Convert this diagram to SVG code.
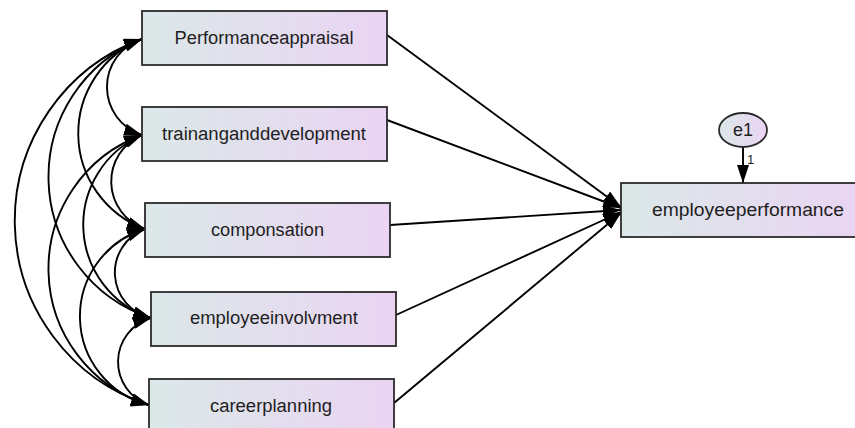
<svg xmlns="http://www.w3.org/2000/svg" width="855" height="428" viewBox="0 0 855 428">
<style>
.box{stroke:#2b2b2b;stroke-width:1.8;fill:url(#g)}
.lbl{font-family:"Liberation Sans",Arial,Helvetica,sans-serif;font-size:18px;fill:#1e1e1e;text-anchor:middle}
.num{font-family:"Liberation Sans",Arial,Helvetica,sans-serif;font-size:13px;fill:#1e1e1e}
.con{fill:none;stroke:#000;stroke-width:1.9}
</style>
<defs>
<linearGradient id="g" x1="0" y1="0" x2="1" y2="0">
<stop offset="0" stop-color="#dbe8e8"/>
<stop offset="1" stop-color="#ead4f3"/>
</linearGradient>
<marker id="ah" viewBox="0 0 18 12" refX="18" refY="6" markerWidth="18" markerHeight="12" orient="auto-start-reverse" markerUnits="userSpaceOnUse">
<path d="M0,0 L18,6 L0,12 z" fill="#000"/>
</marker>
</defs>
<g id="connectors">
<path class="con" d="M387,35 L621,207" marker-end="url(#ah)"/>
<path class="con" d="M387,120 L621,208" marker-end="url(#ah)"/>
<path class="con" d="M390,225 L621,210" marker-end="url(#ah)"/>
<path class="con" d="M396,315 L621,212" marker-end="url(#ah)"/>
<path class="con" d="M394,403 L621,213" marker-end="url(#ah)"/>
<path class="con" d="M743,147 L743,183" marker-end="url(#ah)"/>
<path class="con" d="M142,39 A50.4,50.4 0 0 0 142,135" marker-start="url(#ah)" marker-end="url(#ah)"/>
<path class="con" d="M142,135 A50.4,50.4 0 0 0 145,229" marker-start="url(#ah)" marker-end="url(#ah)"/>
<path class="con" d="M145,229 A46.6,46.6 0 0 0 151,318" marker-start="url(#ah)" marker-end="url(#ah)"/>
<path class="con" d="M151,318 A45.6,45.6 0 0 0 149,405" marker-start="url(#ah)" marker-end="url(#ah)"/>
<path class="con" d="M142,39 A101.8,101.8 0 0 0 145,229" marker-start="url(#ah)" marker-end="url(#ah)"/>
<path class="con" d="M142,135 A98,98 0 0 0 151,318" marker-start="url(#ah)" marker-end="url(#ah)"/>
<path class="con" d="M145,229 A91.3,91.3 0 0 0 149,405" marker-start="url(#ah)" marker-end="url(#ah)"/>
<path class="con" d="M142,39 A148.4,148.4 0 0 0 151,318" marker-start="url(#ah)" marker-end="url(#ah)"/>
<path class="con" d="M142,135 A142.5,142.5 0 0 0 149,405" marker-start="url(#ah)" marker-end="url(#ah)"/>
<path class="con" d="M142,39 A193.5,193.5 0 0 0 149,405" marker-start="url(#ah)" marker-end="url(#ah)"/>
</g>
<g id="performanceappraisal">
<rect class="box" x="142" y="11" width="245" height="54"/>
<text class="lbl" x="264" y="44" textLength="179" lengthAdjust="spacingAndGlyphs">Performanceappraisal</text>
</g>
<g id="trainanganddevelopment">
<rect class="box" x="142" y="107" width="245" height="54"/>
<text class="lbl" x="264" y="140" textLength="204" lengthAdjust="spacingAndGlyphs">trainanganddevelopment</text>
</g>
<g id="componsation">
<rect class="box" x="145" y="203" width="245" height="54"/>
<text class="lbl" x="267.5" y="236" textLength="113" lengthAdjust="spacingAndGlyphs">componsation</text>
</g>
<g id="employeeinvolvment">
<rect class="box" x="151" y="292" width="245" height="54"/>
<text class="lbl" x="274" y="324" textLength="168" lengthAdjust="spacingAndGlyphs">employeeinvolvment</text>
</g>
<g id="careerplanning">
<rect class="box" x="149" y="379" width="245" height="54"/>
<text class="lbl" x="271" y="412" textLength="122" lengthAdjust="spacingAndGlyphs">careerplanning</text>
</g>
<g id="employeeperformance">
<rect class="box" x="621" y="183" width="245" height="54"/>
<text class="lbl" x="748" y="216" textLength="192" lengthAdjust="spacingAndGlyphs">employeeperformance</text>
</g>
<g id="e1">
<ellipse class="box" cx="743" cy="130" rx="24" ry="17"/>
<text class="lbl" x="743" y="136" font-size="18">e1</text>
<text class="num" x="747" y="164">1</text>
</g>
</svg>
